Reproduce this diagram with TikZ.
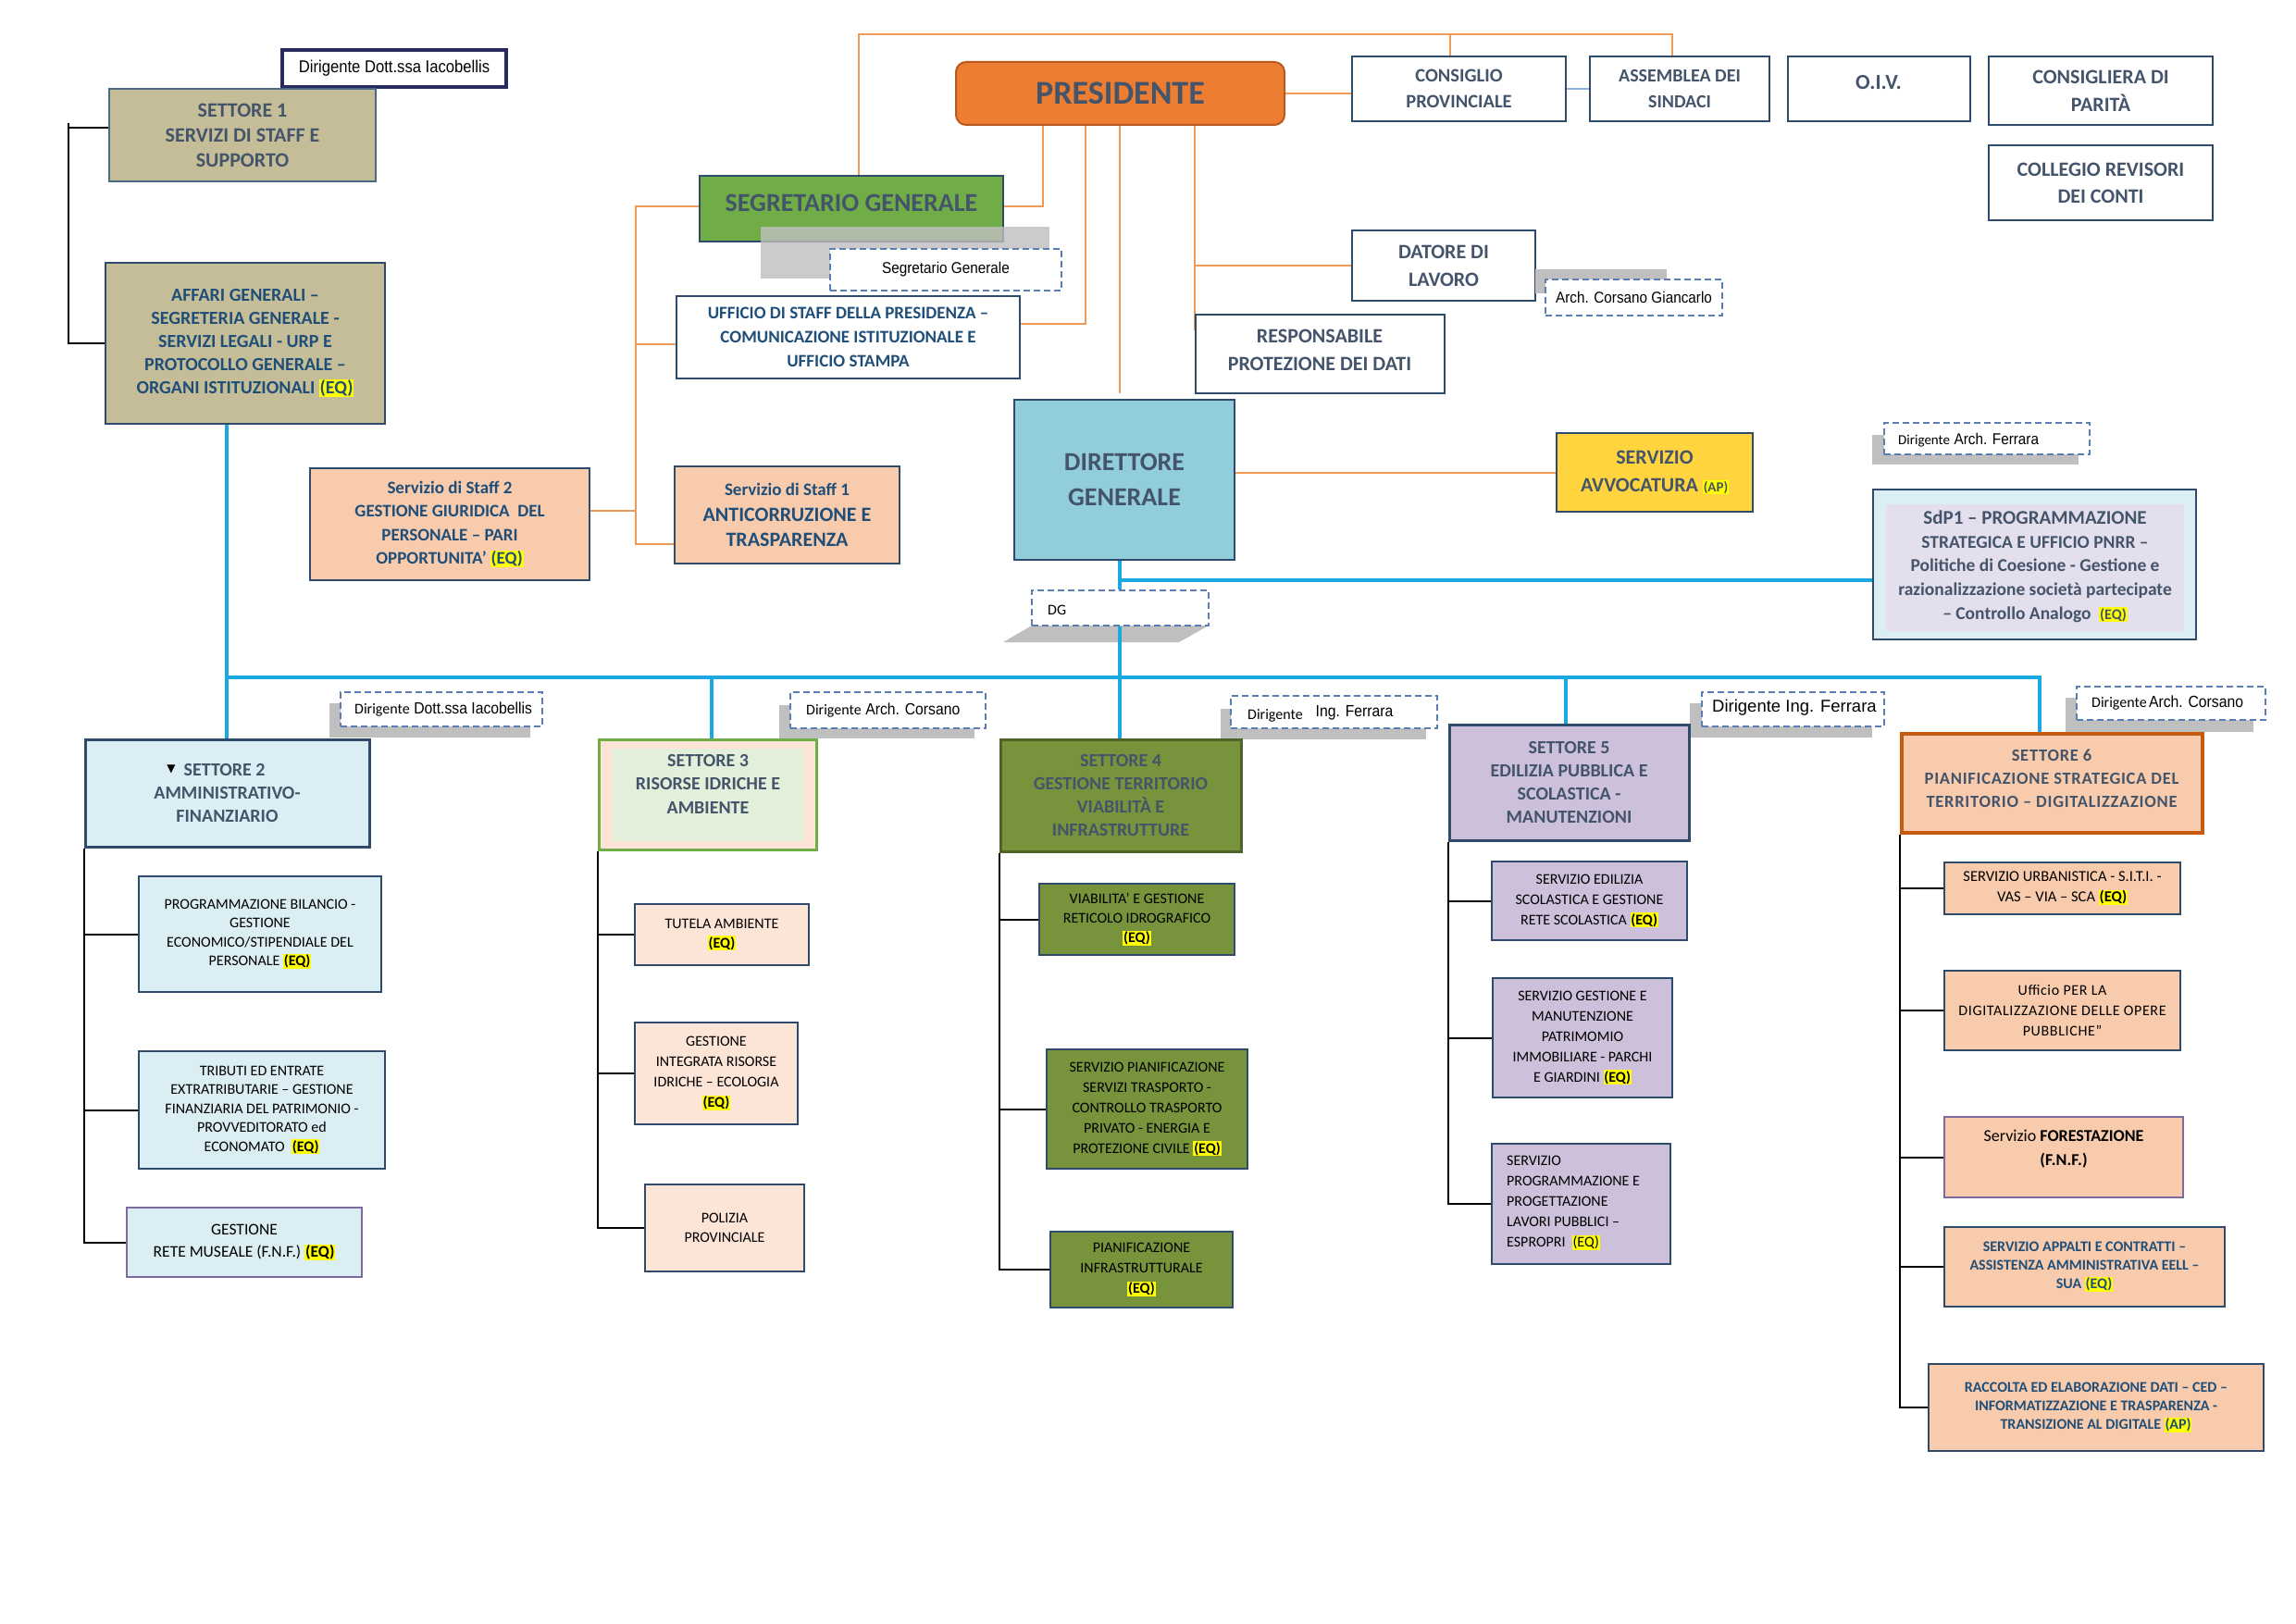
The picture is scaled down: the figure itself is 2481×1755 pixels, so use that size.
\documentclass[tikz,border=0pt]{standalone}
\usepackage{fontspec}
\setmainfont{Carlito}
\newfontfamily\narrowf{Liberation Sans}[FakeStretch=0.9]
\newfontfamily\arialf{Liberation Sans}
\newfontfamily\djv{DejaVu Sans}
\newfontfamily\spacedf{Carlito}[LetterSpace=4]
\pgfdeclarelayer{bg}
\pgfsetlayers{bg,main}
\definecolor{navyb}{HTML}{2F4B6C}
\definecolor{s1b}{HTML}{4A6A8A}
\definecolor{dirnavy}{HTML}{262A5E}
\definecolor{slate}{HTML}{44546A}
\definecolor{navyt}{HTML}{1F4E79}
\definecolor{tan}{HTML}{C4BD97}
\definecolor{presf}{HTML}{ED7D31}
\definecolor{presb}{HTML}{B85A1E}
\definecolor{greenf}{HTML}{70AD47}
\definecolor{lightb}{HTML}{DAEEF3}
\definecolor{dirf}{HTML}{92CDDC}
\definecolor{peach}{HTML}{F8CBAD}
\definecolor{peachl}{HTML}{FCE4D6}
\definecolor{goldf}{HTML}{FFD43F}
\definecolor{olive}{HTML}{77933C}
\definecolor{oliveb}{HTML}{4F6228}
\definecolor{lav}{HTML}{CCC0DA}
\definecolor{sdpin}{HTML}{E4DFEC}
\definecolor{s3in}{HTML}{E2EFDA}
\definecolor{s6b}{HTML}{C55A11}
\definecolor{purpb}{HTML}{7F6A9F}
\definecolor{conn}{HTML}{EE9B5A}
\definecolor{connb}{HTML}{8DB3E2}
\definecolor{busc}{HTML}{1BA7DF}
\definecolor{dashc}{HTML}{5A7DB4}
\definecolor{shadowc}{HTML}{BFBFBF}
\definecolor{hly}{HTML}{FFFF00}
\newcommand\fsz[2]{\fontsize{#1}{#2}\selectfont}
\newcommand\hl[1]{{\setlength{\fboxsep}{0.8pt}\colorbox{hly}{#1}}}
\newcommand\obox[7]{\node[bx,#2,minimum width={(#5)-(#3)},minimum height={(#6)-(#4)}] (#1) at ({((#3)+(#5))/2},{((#4)+(#6))/2}) {#7};}
\begin{document}
\begin{tikzpicture}[x=1pt,y=-1pt,
  bx/.style={draw, inner sep=0pt, align=center, line width=2pt},
  sub/.style={draw=navyb, line width=2pt, text=black, font=\fsz{16}{21}},
  topb/.style={draw=navyb, fill=white, line width=2.2pt, text=slate, font=\bfseries\fsz{21}{29}},
  oline/.style={draw=conn, line width=2pt},
  bline/.style={draw=busc, line width=4pt},
  kline/.style={draw=black, line width=2pt},
  dbox/.style={draw=dashc, dashed, dash pattern=on 7pt off 4pt, line width=2pt, fill=white},
  shd/.style={fill=shadowc, draw=none},
  lbl/.style={anchor=west, inner sep=0pt},
]
\useasboundingbox (0,0) rectangle (2481,1755);

% ---------- top area ----------
\obox{dirtop}{draw=dirnavy,line width=3.5pt,fill=white,font=\narrowf\fsz{18.5}{22}}{305}{54}{547}{94}{Dirigente Dott.ssa Iacobellis}
\obox{s1}{draw=s1b,fill=tan,text=slate,font=\bfseries\fsz{22}{27}}{118}{96}{406}{196}{SETTORE 1\\SERVIZI DI STAFF E\\SUPPORTO}
\obox{affari}{draw=navyb,fill=tan,text=navyt,font=\bfseries\fsz{20}{25}}{114}{284}{416}{458}{AFFARI GENERALI –\\SEGRETERIA GENERALE -\\SERVIZI LEGALI - URP E\\PROTOCOLLO GENERALE –\\ORGANI ISTITUZIONALI \hl{(EQ)}}
\obox{pres}{draw=presb,fill=presf,rounded corners=11pt,line width=2pt,text=slate,font=\bfseries\fsz{36}{40}}{1033}{67}{1388}{135}{PRESIDENTE}
\obox{segr}{draw=navyb,fill=greenf,line width=2.5pt}{756}{190}{1084}{261}{}
\node[text=slate,font=\bfseries\fsz{28}{32}] (segrT) at (920,219) {SEGRETARIO GENERALE};
\fill[shadowc,opacity=0.8] (822,245) rectangle (1134,301);
\obox{segrD}{dbox,font=\narrowf\fsz{17}{20}}{897}{269}{1147}{314}{Segretario Generale}
\obox{uff}{draw=navyb,fill=white,line width=2.2pt,text=navyt,font=\bfseries\fsz{19}{26}}{731}{320}{1102}{409}{UFFICIO DI STAFF DELLA PRESIDENZA –\\COMUNICAZIONE ISTITUZIONALE E\\UFFICIO STAMPA}
\obox{cons}{topb,font=\bfseries\fsz{20.5}{28}}{1461}{61}{1692}{131}{CONSIGLIO\\PROVINCIALE}
\obox{ass}{topb,font=\bfseries\fsz{20}{28}}{1718}{61}{1912}{131}{ASSEMBLEA DEI\\SINDACI}
\obox{oiv}{topb}{1932}{61}{2129}{131}{}
\node[text=slate,font=\bfseries\fsz{23}{26}] (oivT) at (2030,89) {O.I.V.};
\obox{cpar}{topb,font=\bfseries\fsz{22}{30}}{2149}{61}{2391}{135}{CONSIGLIERA DI\\PARITÀ}
\obox{coll}{topb,font=\bfseries\fsz{22}{29}}{2149}{157}{2391}{238}{COLLEGIO REVISORI\\DEI CONTI}
\obox{dat}{topb,font=\bfseries\fsz{22}{30}}{1461}{249}{1659}{325}{DATORE DI\\LAVORO}
\fill[shadowc] (1659,291) rectangle (1801,317);
\obox{datD}{dbox,font=\narrowf\fsz{17}{20}}{1670}{302}{1861}{341}{Arch. Corsano Giancarlo}
\obox{resp}{topb}{1292}{340}{1561}{425}{}
\node[text=slate,font=\bfseries\fsz{22}{30},align=center] (respT) at (1426,378) {RESPONSABILE\\PROTEZIONE DEI DATI};

% ---------- staff ----------
\obox{st2}{draw=navyb,fill=peach,line width=2.2pt,text=navyt,font=\bfseries\fsz{19}{25.5}}{335}{506}{637}{627}{Servizio di Staff 2\\GESTIONE GIURIDICA\ \ DEL\\PERSONALE – PARI\\OPPORTUNITA’ \hl{(EQ)}}
\obox{st1}{draw=navyb,fill=peach,line width=2.2pt,text=navyt,font=\bfseries\fsz{22}{27.5}}{729}{504}{972}{609}{{\fsz{19}{27}Servizio di Staff 1}\\ANTICORRUZIONE E\\TRASPARENZA}
\obox{dir}{draw=navyb,fill=dirf,line width=2.5pt,text=slate,font=\bfseries\fsz{28}{38}}{1096}{432}{1334}{605}{DIRETTORE\\GENERALE}
\obox{avv}{draw=navyb,fill=goldf,line width=2.5pt,text=slate,font=\bfseries\fsz{22}{30}}{1682}{468}{1894}{553}{SERVIZIO\\AVVOCATURA {\fsz{15}{18}\hl{(AP)}}}

\fill[shadowc] (2023,470) rectangle (2246,502);
\obox{sdpD}{dbox}{2036}{457}{2258}{491}{}
\node[lbl] (sdpDT) at (2051,476) {{\fsz{15}{17}Dirigente}\ \ {\narrowf\fsz{17}{20}Arch. Ferrara}};
\obox{sdp}{draw=navyb,fill=lightb,line width=2.2pt}{2024}{529}{2373}{691}{}
\fill[sdpin] (2038,545) rectangle (2360,682);
\node[text=slate,font=\bfseries\fsz{19.5}{25.7},align=center] (sdpT) at (2199,612) {{\fsz{21}{25.7}SdP1 – PROGRAMMAZIONE}\\STRATEGICA E UFFICIO PNRR –\\Politiche di Coesione - Gestione e\\razionalizzazione società partecipate\\– Controllo Analogo\ \ {\fsz{16}{18}\hl{(EQ)}}};

\obox{dg}{dbox}{1115}{638}{1306}{676}{}
\node[lbl,font=\fsz{16}{18}] (dgT) at (1132,659) {DG};

% ---------- dirigenti settori ----------
\fill[shadowc] (356,760) rectangle (573,797);
\obox{d2}{dbox}{368}{748}{586}{785}{}
\node[lbl] (d2T) at (383,767) {{\fsz{16}{18}Dirigente}\ \ {\narrowf\fsz{17.5}{20}Dott.ssa Iacobellis}};
\fill[shadowc] (842,762) rectangle (1053,798);
\obox{d3}{dbox}{854}{748}{1065}{787}{}
\node[lbl] (d3T) at (871,768) {{\fsz{16}{18}Dirigente}\ \ {\narrowf\fsz{17.5}{20}Arch. Corsano}};
\fill[shadowc] (1319,766) rectangle (1541,799);
\obox{d4}{dbox}{1330}{752}{1553}{787}{}
\node[lbl] (d4T) at (1348,771) {{\fsz{16}{18}\raisebox{-3pt}{Dirigente}}\hspace{14pt}{\narrowf\fsz{17.5}{20}Ing. Ferrara}};
\fill[shadowc] (1826,760) rectangle (2023,797);
\obox{d5}{dbox}{1839}{748}{2036}{785}{}
\node[lbl] (d5T) at (1850,765) {\arialf\fsz{18.5}{21}Dirigente Ing. Ferrara};
\fill[shadowc] (2232,754) rectangle (2435,791);
\obox{d6}{dbox}{2244}{742}{2448}{778}{}
\node[lbl] (d6T) at (2260,760) {{\fsz{16}{18}Dirigente}\ {\narrowf\fsz{17.5}{20}Arch. Corsano}};

% ---------- settori ----------
\obox{s2}{draw=navyb,fill=lightb,line width=3pt,text=slate,font=\bfseries\fsz{20}{25}}{92}{799}{399}{915}{\hbox{{\color{black}\djv\fsz{12}{12}\raisebox{4pt}{▼}}\ \ SETTORE 2\kern24pt}\\AMMINISTRATIVO-\\FINANZIARIO}
\obox{s3}{draw=greenf,fill=peachl,line width=3pt}{647}{799}{882}{918}{}
\fill[s3in] (662,809) rectangle (868,909);
\node[text=slate,font=\bfseries\fsz{20}{25.5},align=center] (s3T) at (765,847) {SETTORE 3\\RISORSE IDRICHE E\\AMBIENTE};
\obox{s4}{draw=oliveb,fill=olive,line width=3pt,text=slate,font=\bfseries\fsz{20}{25}}{1081}{799}{1341}{920}{SETTORE 4\\GESTIONE TERRITORIO\\VIABILITÀ E\\INFRASTRUTTURE}
\obox{s5}{draw=navyb,fill=lav,line width=3pt,text=slate,font=\bfseries\fsz{20}{25}}{1566}{783}{1825}{908}{SETTORE 5\\EDILIZIA PUBBLICA E\\SCOLASTICA -\\MANUTENZIONI}
\obox{s6}{draw=s6b,fill=peach,line width=3.5pt}{2055}{793}{2380}{900}{}
\node[text=slate,font=\spacedf\bfseries\fsz{18.5}{25},align=center] (s6T) at (2217,841) {SETTORE 6\\PIANIFICAZIONE STRATEGICA DEL\\TERRITORIO – DIGITALIZZAZIONE};

% ---------- settore 2 ----------
\obox{p21}{sub,fill=lightb,font=\fsz{16}{20.5}}{150}{947}{412}{1072}{PROGRAMMAZIONE BILANCIO -\\GESTIONE\\ECONOMICO/STIPENDIALE DEL\\PERSONALE \hl{\textbf{(EQ)}}}
\obox{p22}{sub,fill=lightb,font=\fsz{16}{20.5}}{150}{1136}{416}{1263}{TRIBUTI ED ENTRATE\\EXTRATRIBUTARIE – GESTIONE\\FINANZIARIA DEL PATRIMONIO -\\PROVVEDITORATO ed\\ECONOMATO\ \ \hl{\textbf{(EQ)}}}
\obox{p23}{sub,draw=purpb,fill=lightb,font=\fsz{17.5}{24}}{137}{1305}{391}{1380}{GESTIONE\\RETE MUSEALE (F.N.F.) \hl{\textbf{(EQ)}}}
% ---------- settore 3 ----------
\obox{p31}{sub,fill=peachl}{686}{977}{874}{1043}{TUTELA AMBIENTE\\\hl{\textbf{(EQ)}}}
\obox{p32}{sub,fill=peachl,font=\fsz{16}{22}}{686}{1105}{862}{1215}{GESTIONE\\INTEGRATA RISORSE\\IDRICHE – ECOLOGIA\\\hl{\textbf{(EQ)}}}
\obox{p33}{sub,fill=peachl}{697}{1280}{869}{1374}{POLIZIA\\PROVINCIALE}
% ---------- settore 4 ----------
\obox{p41}{sub,fill=olive}{1123}{955}{1334}{1032}{VIABILITA’ E GESTIONE\\RETICOLO IDROGRAFICO\\\hl{\textbf{(EQ)}}}
\obox{p42}{sub,fill=olive,font=\fsz{16}{22}}{1131}{1134}{1348}{1263}{SERVIZIO PIANIFICAZIONE\\SERVIZI TRASPORTO -\\CONTROLLO TRASPORTO\\PRIVATO - ENERGIA E\\PROTEZIONE CIVILE \hl{\textbf{(EQ)}}}
\obox{p43}{sub,fill=olive,font=\fsz{16}{22}}{1135}{1331}{1332}{1413}{PIANIFICAZIONE\\INFRASTRUTTURALE\\\hl{\textbf{(EQ)}}}
% ---------- settore 5 ----------
\obox{p51}{sub,fill=lav,font=\fsz{16}{22}}{1612}{931}{1823}{1016}{SERVIZIO EDILIZIA\\SCOLASTICA E GESTIONE\\RETE SCOLASTICA \hl{\textbf{(EQ)}}}
\obox{p52}{sub,fill=lav,font=\fsz{16}{22}}{1613}{1057}{1807}{1186}{SERVIZIO GESTIONE E\\MANUTENZIONE\\PATRIMOMIO\\IMMOBILIARE - PARCHI\\E GIARDINI \hl{\textbf{(EQ)}}}
\obox{p53}{sub,fill=lav}{1612}{1236}{1805}{1366}{}
\node[lbl,align=left,font=\fsz{16}{22}] (p53T) at (1628,1300) {SERVIZIO\\PROGRAMMAZIONE E\\PROGETTAZIONE\\LAVORI PUBBLICI –\\ESPROPRI\ \ \hl{(EQ)}};
% ---------- settore 6 ----------
\obox{p61}{sub,fill=peach,font=\fsz{16.5}{22}}{2101}{932}{2356}{988}{SERVIZIO URBANISTICA - S.I.T.I. -\\VAS – VIA – SCA \hl{\textbf{(EQ)}}}
\obox{p62}{sub,fill=peach,font=\spacedf\fsz{16}{22}}{2101}{1049}{2356}{1135}{Ufficio PER LA\\DIGITALIZZAZIONE DELLE OPERE\\PUBBLICHE”}
\obox{p63}{sub,draw=purpb,fill=peach}{2101}{1207}{2359}{1294}{}
\node[font=\fsz{18}{26},align=center] (p63T) at (2230,1242) {Servizio \textbf{FORESTAZIONE}\\\textbf{(F.N.F.)}};
\obox{p64}{sub,fill=peach,text=navyt,font=\bfseries\fsz{16}{20}}{2101}{1326}{2404}{1412}{SERVIZIO APPALTI E CONTRATTI –\\ASSISTENZA AMMINISTRATIVA EELL –\\SUA \hl{(EQ)}}
\obox{p65}{sub,fill=peach,text=navyt,font=\bfseries\fsz{16}{20}}{2084}{1474}{2446}{1568}{RACCOLTA ED ELABORAZIONE DATI – CED –\\INFORMATIZZAZIONE E TRASPARENZA -\\TRANSIZIONE AL DIGITALE \hl{(AP)}}

% ---------- coordinates ----------
\coordinate (topL) at (928,37);
\coordinate (topM) at (1567,37);
\coordinate (topR) at (1807,37);
\coordinate (pv1) at (1127,223);
\coordinate (pv2) at (1173,350);
\coordinate (pv3) at (1210,425);
\coordinate (pv4) at (1291,357);
\coordinate (pv4b) at (1291,287);
\coordinate (lv) at (687,588);
\coordinate (lvu) at (687,372);
\coordinate (lvs2) at (687,552);
\coordinate (dgv) at (1210,627);
\coordinate (busL) at (245,732);
\coordinate (busR) at (2204,732);
\coordinate (b3) at (769,732);
\coordinate (b5) at (1692,732);
\coordinate (k1) at (74,133);
\coordinate (k1b) at (74,138);

\begin{pgfonlayer}{bg}
\fill[white] (0,0) rectangle (2481,1755);
\fill[shadowc] (1115,676) -- (1306,676) -- (1274,694) -- (1084,694) -- cycle;
% orange connectors
\draw[oline] (segr.north -| topL) -- (topL) -- (topR) -- (topR |- ass.north);
\draw[oline] (topM) -- (topM |- cons.north);
\draw[oline] (pres.east) -- (pres.east -| cons.west);
\draw[draw=connb, line width=1.5pt] (cons.east) -- (ass.west);
\draw[oline] (pres.south -| pv1) -- (pv1) -- (pv1 -| segr.east);
\draw[oline] (pres.south -| pv2) -- (pv2) -- (pv2 -| uff.east);
\draw[oline] (pres.south -| pv3) -- (pv3);
\draw[oline] (pres.south -| pv4) -- (pv4);
\draw[oline] (pv4b) -- (pv4b -| dat.west);
\draw[oline] (segr.west |- pv1) -- (pv1 -| lv) -- (lv) -- (lv -| st1.west);
\draw[oline] (lvu) -- (lvu -| uff.west);
\draw[oline] (lvs2 -| st2.east) -- (lvs2);
\draw[oline] (dir.east |- avv.west) -- (avv.west);
% blue connectors
\draw[bline] (dir.south -| dgv) -- (dgv |- dg.north);
\draw[bline] (dgv) -- (dgv -| sdp.west);
\draw[bline] (dgv |- dg.south) -- (dgv |- s4.north);
\draw[bline] (affari.south -| busL) -- (busL |- s2.north);
\draw[bline] (busL) -- (busR) -- (busR |- s6.north);
\draw[bline] (b3) -- (b3 |- s3.north);
\draw[bline] (b5) -- (b5 |- s5.north);
% black brackets
\draw[kline] (k1) -- (k1 |- affari.west) -- (affari.west);
\draw[kline] (k1b) -- (k1b -| s1.west);
\draw[kline] (s2.south west) -- (s2.south west |- p23.west) -- (p23.west);
\draw[kline] (s2.south west |- p21.west) -- (p21.west);
\draw[kline] (s2.south west |- p22.west) -- (p22.west);
\draw[kline] (s3.south west) -- (s3.south west |- p33.west) -- (p33.west);
\draw[kline] (s3.south west |- p31.west) -- (p31.west);
\draw[kline] (s3.south west |- p32.west) -- (p32.west);
\draw[kline] (s4.south west) -- (s4.south west |- p43.west) -- (p43.west);
\draw[kline] (s4.south west |- p41.west) -- (p41.west);
\draw[kline] (s4.south west |- p42.west) -- (p42.west);
\draw[kline] (s5.south west) -- (s5.south west |- p53.west) -- (p53.west);
\draw[kline] (s5.south west |- p51.west) -- (p51.west);
\draw[kline] (s5.south west |- p52.west) -- (p52.west);
\draw[kline] (s6.south west) -- (s6.south west |- p65.west) -- (p65.west);
\draw[kline] (s6.south west |- p61.west) -- (p61.west);
\draw[kline] (s6.south west |- p62.west) -- (p62.west);
\draw[kline] (s6.south west |- p63.west) -- (p63.west);
\draw[kline] (s6.south west |- p64.west) -- (p64.west);
\end{pgfonlayer}
\end{tikzpicture}
\end{document}
